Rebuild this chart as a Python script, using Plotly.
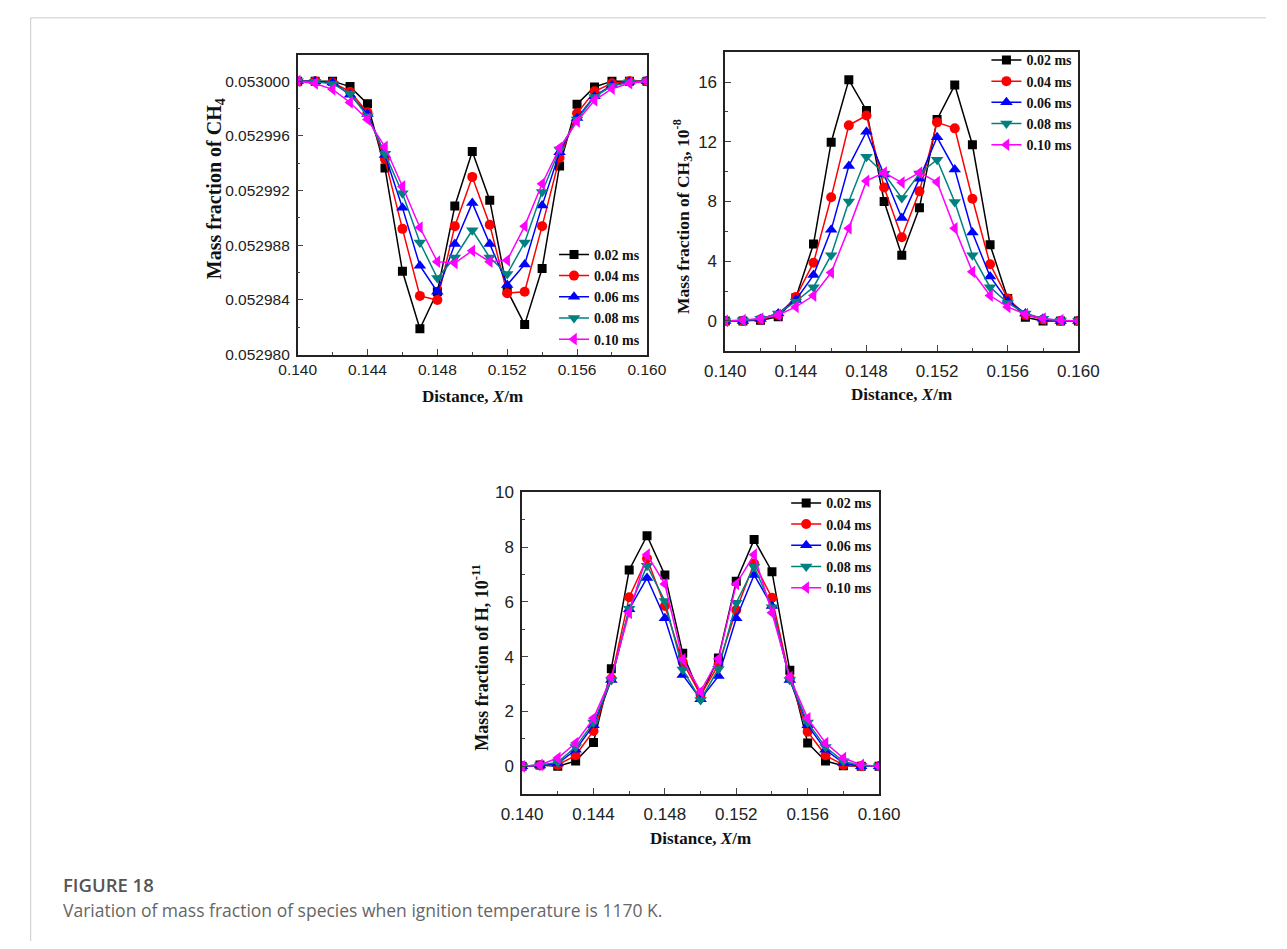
import plotly.graph_objects as go

# ---------------- data ----------------
x = [0.140, 0.141, 0.142, 0.143, 0.144, 0.145, 0.146, 0.147, 0.148, 0.149, 0.150,
     0.151, 0.152, 0.153, 0.154, 0.155, 0.156, 0.157, 0.158, 0.159, 0.160]

series_names = ["0.02 ms", "0.04 ms", "0.06 ms", "0.08 ms", "0.10 ms"]
colors = ["#000000", "#FF0000", "#0000FF", "#008080", "#FF00FF"]
symbols = ["square", "circle", "triangle-up", "triangle-down", "triangle-left"]

# CH4 mass fraction: offset from 0.053000 in units of 1e-6
ch4_base = 0.053000
ch4_002 = [0, 0, 0, -0.4, -1.66, -6.35, -13.9, -18.1, -15.4, -9.13, -5.14,
           -8.7, -15.3, -17.8, -13.7, -6.2, -1.68, -0.43, 0, 0, 0]
ch4_004 = [0, 0, -0.1, -0.77, -2.28, -5.7, -10.8, -15.7, -16.0, -10.6, -7.0,
           -10.5, -15.5, -15.4, -10.6, -5.6, -2.35, -0.74, -0.15, 0, 0]
ch4_006 = [0, 0, -0.1, -1.0, -2.4, -5.4, -9.25, -13.5, -15.4, -11.9, -8.9,
           -11.9, -14.9, -13.4, -9.1, -5.2, -2.7, -1.1, -0.3, -0.05, 0]
ch4_008 = [0, -0.05, -0.2, -0.9, -2.57, -5.3, -8.2, -11.8, -14.4, -12.9, -10.9,
           -12.9, -14.1, -11.8, -8.1, -5.0, -2.8, -1.15, -0.35, -0.08, 0]
ch4_010 = [0, -0.17, -0.6, -1.56, -2.8, -4.8, -7.7, -10.7, -13.2, -13.3, -12.4,
           -13.2, -13.1, -10.6, -7.5, -4.87, -2.95, -1.4, -0.55, -0.15, 0]

# CH3 mass fraction, units of 1e-8
ch3_002 = [0, 0, 0.05, 0.28, 1.55, 5.15, 11.97, 16.15, 14.1, 8.0, 4.4,
           7.58, 13.5, 15.8, 11.8, 5.1, 1.5, 0.24, 0, 0, 0]
ch3_004 = [0, 0, 0.1, 0.4, 1.6, 3.9, 8.28, 13.1, 13.76, 8.94, 5.6,
           8.68, 13.3, 12.9, 8.18, 3.8, 1.5, 0.4, 0.1, 0, 0]
ch3_006 = [0, 0, 0.12, 0.5, 1.4, 3.07, 6.1, 10.37, 12.67, 9.8, 6.9,
           9.53, 12.3, 10.15, 5.92, 2.98, 1.34, 0.5, 0.15, 0, 0]
ch3_008 = [0, 0.02, 0.15, 0.5, 1.3, 2.26, 4.4, 8.0, 11.0, 9.86, 8.24,
           9.88, 10.8, 7.96, 4.4, 2.26, 1.2, 0.5, 0.15, 0.02, 0]
ch3_010 = [0, 0.05, 0.15, 0.4, 0.94, 1.7, 3.24, 6.2, 9.38, 9.93, 9.27,
           9.93, 9.3, 6.2, 3.29, 1.7, 0.94, 0.45, 0.15, 0.05, 0]

# H mass fraction, units of 1e-11
h_002 = [0, 0.05, 0, 0.19, 0.87, 3.56, 7.16, 8.41, 6.98, 4.12, 2.55,
         3.95, 6.75, 8.27, 7.1, 3.5, 0.85, 0.19, 0.02, 0, 0]
h_004 = [0, 0.03, 0.05, 0.4, 1.29, 3.2, 6.17, 7.58, 5.85, 3.8, 2.6,
         3.7, 5.7, 7.4, 6.15, 3.2, 1.26, 0.4, 0.05, 0, 0]
h_006 = [0, 0.03, 0.1, 0.6, 1.5, 3.15, 5.73, 6.87, 5.4, 3.33, 2.45,
         3.29, 5.4, 6.98, 5.85, 3.15, 1.5, 0.6, 0.12, 0, 0]
h_008 = [0, 0.04, 0.15, 0.7, 1.6, 3.15, 5.75, 7.32, 6.03, 3.53, 2.42,
         3.55, 5.97, 7.28, 5.8, 3.15, 1.6, 0.7, 0.18, 0.02, 0]
h_010 = [0, 0.05, 0.3, 0.85, 1.75, 3.25, 5.6, 7.72, 6.65, 3.9, 2.72,
         3.92, 6.65, 7.72, 5.6, 3.25, 1.75, 0.85, 0.3, 0.05, 0]

ch4_sets = [ch4_002, ch4_004, ch4_006, ch4_008, ch4_010]
ch3_sets = [ch3_002, ch3_004, ch3_006, ch3_008, ch3_010]
h_sets = [h_002, h_004, h_006, h_008, h_010]

ch4_ticks = [0.052980, 0.052984, 0.052988, 0.052992, 0.052996, 0.053000]
ch3_ticks = [0, 4, 8, 12, 16]
h_ticks = [0, 2, 4, 6, 8, 10]
x_ticks = [0.140, 0.144, 0.148, 0.152, 0.156, 0.160]

x_title = "<b>Distance, <i>X</i>/m</b>"
ch4_title = "<b>Mass fraction of CH<sub>4</sub></b>"
ch3_title = "<b>Mass fraction of CH<sub>3</sub>, 10<sup>-8</sup></b>"
h_title = "<b>Mass fraction of H, 10<sup>-11</sup></b>"
caption_head = "FIGURE 18"
caption_text = "Variation of mass fraction of species when ignition temperature is 1170 K."

# ---------------- figure ----------------
W, H = 1287, 949
fig = go.Figure()

msizes = [9, 10, 11, 11, 11]


def add_series(sets, xa, ya, legend, transform=lambda v: v):
    for i, vals in enumerate(sets):
        fig.add_trace(go.Scatter(
            x=x, y=[transform(v) for v in vals], xaxis=xa, yaxis=ya,
            mode="lines+markers", name=series_names[i], legend=legend,
            line=dict(color=colors[i], width=1.5),
            marker=dict(symbol=symbols[i], size=msizes[i], color=colors[i],
                        line=dict(width=0)),
        ))


add_series(ch4_sets, "x", "y", "legend", lambda v: ch4_base + v * 1e-6)
add_series(ch3_sets, "x2", "y2", "legend2")
add_series(h_sets, "x3", "y3", "legend3")


def px_x(p):
    return p / W


def px_y(p):
    return 1 - p / H


def tick_font(size):
    return dict(family="Liberation Sans, Arial", size=size, color="#222222")


def title_font(size):
    return dict(family="Liberation Serif, Times New Roman", size=size, color="#111111")


def xaxis_cfg(domain, anchor, tsize, lstand):
    return dict(
        domain=domain, anchor=anchor, range=[0.140, 0.160],
        tickvals=x_ticks, tickformat=".3f", ticks="inside", ticklen=6, tickwidth=1.2,
        minor=dict(ticks="inside", ticklen=3, dtick=0.002, tick0=0.140, tickwidth=1.2),
        showline=True, linewidth=1.5, linecolor="#222222", mirror=True,
        showgrid=False, zeroline=False, tickfont=tick_font(tsize),
        ticklabelstandoff=lstand,
    )


def yaxis_cfg(domain, anchor, rng, tickvals, minor_dtick, minor_tick0, tsize, fmt=None):
    d = dict(
        domain=domain, anchor=anchor, range=rng, tickvals=tickvals,
        ticks="inside", ticklen=6, tickwidth=1.2,
        minor=dict(ticks="inside", ticklen=3, dtick=minor_dtick, tick0=minor_tick0, tickwidth=1.2),
        showline=True, linewidth=1.5, linecolor="#222222", mirror=True,
        showgrid=False, zeroline=False, tickfont=tick_font(tsize),
        ticklabelstandoff=3,
    )
    if fmt:
        d["tickformat"] = fmt
    return d


d1x = [px_x(286), px_x(647)]
d1y = [px_y(352), px_y(47)]
d2x = [px_x(728), px_x(1093)]
d2y = [px_y(348), px_y(44)]
d3x = [px_x(518), px_x(887)]
d3y = [px_y(799), px_y(492)]

legend_font = dict(family="Liberation Serif, Times New Roman", size=14,
                   color="#111111", weight="bold")


def legend_cfg(xl, yt):
    return dict(
        x=px_x(xl), y=px_y(yt), xanchor="left", yanchor="top",
        bgcolor="rgba(0,0,0,0)", borderwidth=0, font=legend_font,
        tracegroupgap=0, itemsizing="trace",
    )


fig.update_layout(
    width=W, height=H,
    margin=dict(l=0, r=0, t=0, b=0),
    paper_bgcolor="white", plot_bgcolor="white",
    xaxis=xaxis_cfg(d1x, "y", 15.5, 0),
    yaxis=yaxis_cfg(d1y, "x", [0.05298, 0.0530019], ch4_ticks, 0.000002, 0.05298, 15.5, fmt=".6f"),
    xaxis2=xaxis_cfg(d2x, "y2", 17, 4),
    yaxis2=yaxis_cfg(d2y, "x2", [-2, 18], ch3_ticks, 2, 0, 17),
    xaxis3=xaxis_cfg(d3x, "y3", 17, 4),
    yaxis3=yaxis_cfg(d3y, "x3", [-1, 10], h_ticks, 1, 0, 17),
    legend=legend_cfg(551, 234),
    legend2=legend_cfg(998, 36),
    legend3=legend_cfg(791, 487),
)


def add_text(text, xp, yp, size, angle=0, font=None, xanchor="center"):
    fig.add_annotation(text=text, xref="paper", yref="paper",
                       x=px_x(xp), y=px_y(yp), xanchor=xanchor, yanchor="middle",
                       textangle=angle, showarrow=False,
                       font=font or title_font(size))


# axis titles
add_text(x_title, 466.5, 395, 17)
add_text(x_title, 910.5, 393, 17)
add_text(x_title, 702.5, 845, 17)
add_text(ch4_title, 201, 183, 20, angle=-90)
add_text(ch3_title, 684, 211, 17.5, angle=-90)
add_text(h_title, 475, 660, 18, angle=-90)

# page frame lines and caption
fig.add_shape(type="line", xref="paper", yref="paper",
              x0=px_x(10), x1=1, y0=px_y(9), y1=px_y(9),
              line=dict(color="#cccccc", width=1))
fig.add_shape(type="line", xref="paper", yref="paper",
              x0=px_x(10), x1=px_x(10), y0=0, y1=px_y(9),
              line=dict(color="#cccccc", width=1))

add_text(caption_head, 41.5, 891, 18.5, xanchor="left",
         font=dict(family="Open Sans, Noto Sans", size=18.5, color="#555555", weight=600))
add_text(caption_text, 41.5, 917, 17.5, xanchor="left",
         font=dict(family="Open Sans, Noto Sans", size=17.5, color="#666666"))

fig.write_html("out.html")
